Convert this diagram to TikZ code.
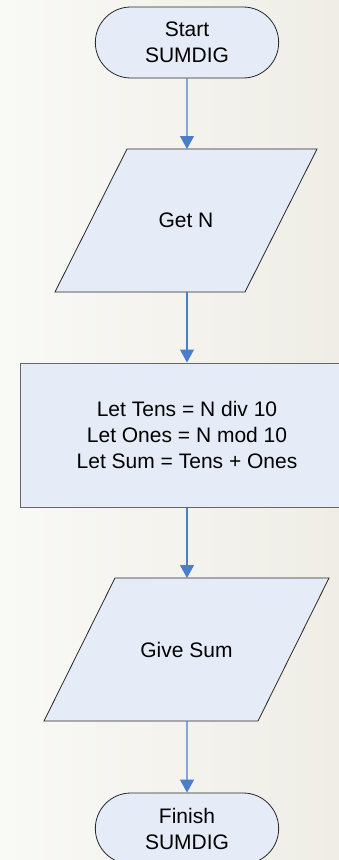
\documentclass[tikz,border=0pt]{standalone}
\usepackage{fontspec}
\setmainfont{Liberation Sans}
\usetikzlibrary{shapes.misc,arrows.meta,backgrounds}
\tikzset{>={Triangle[width=14pt,length=13pt]}}
\definecolor{boxfill}{HTML}{E6ECF7}
\definecolor{flowblue}{HTML}{4A7EC8}
\definecolor{paperL}{HTML}{F9F9F6}
\definecolor{paperR}{HTML}{EFEDE6}

\tikzset{
    txt/.style={align=center, font=\fontsize{21}{26}\selectfont},
    term/.style={txt, rounded rectangle, draw=black!85, fill=boxfill, line width=0.8pt,
        minimum width=190pt, minimum height=71pt},
    inout/.style={txt, outer sep=0pt, minimum height=143pt},
    proc/.style={txt, rectangle, draw=black!60, fill=boxfill, line width=1pt,
        minimum width=334pt, minimum height=144pt},
    flow/.style={->, draw=flowblue, line width=1.1pt},
}

% slanted input/output box behind a text node: #1 node, #2 half the slant
\newcommand{\slantbox}[2]{%
    \begin{pgfonlayer}{background}
        \filldraw[fill=boxfill, draw=black!85, line width=0.8pt]
            ([xshift=#2]#1.north west) -- ([xshift=#2]#1.north east)
            -- ([xshift=-#2]#1.south east) -- ([xshift=-#2]#1.south west) -- cycle;
    \end{pgfonlayer}}

\begin{document}
\begin{tikzpicture}[x=1pt, y=-1pt]
    \useasboundingbox (0,0) rectangle (339,860);
    \begin{pgfonlayer}{background}
        \fill[left color=paperL, right color=paperR] (0,0) rectangle (339,860);
    \end{pgfonlayer}
    \clip (0,0) rectangle (339,860);

    \node[term] (start) at (187,42.5) {Start\\SUMDIG};

    \node[inout, minimum width=190pt] (getn) at (186,220.5) {Get N};
    \slantbox{getn}{36}

    \node[proc] (work) at (187,435) {Let Tens = N div 10\\Let Ones = N mod 10\\Let Sum = Tens + Ones};

    \node[inout, minimum width=214pt] (givesum) at (186.5,649.5) {Give Sum};
    \slantbox{givesum}{35.5}

    \node[term] (finish) at (187,828.5) {Finish\\SUMDIG};

    \draw[flow] (start) -- (start |- getn.north);
    \draw[flow] (getn.south -| start) -- (start |- work.north);
    \draw[flow] (work) -- (start |- givesum.north);
    \draw[flow] (givesum.south -| start) -- (finish);
\end{tikzpicture}
\end{document}
